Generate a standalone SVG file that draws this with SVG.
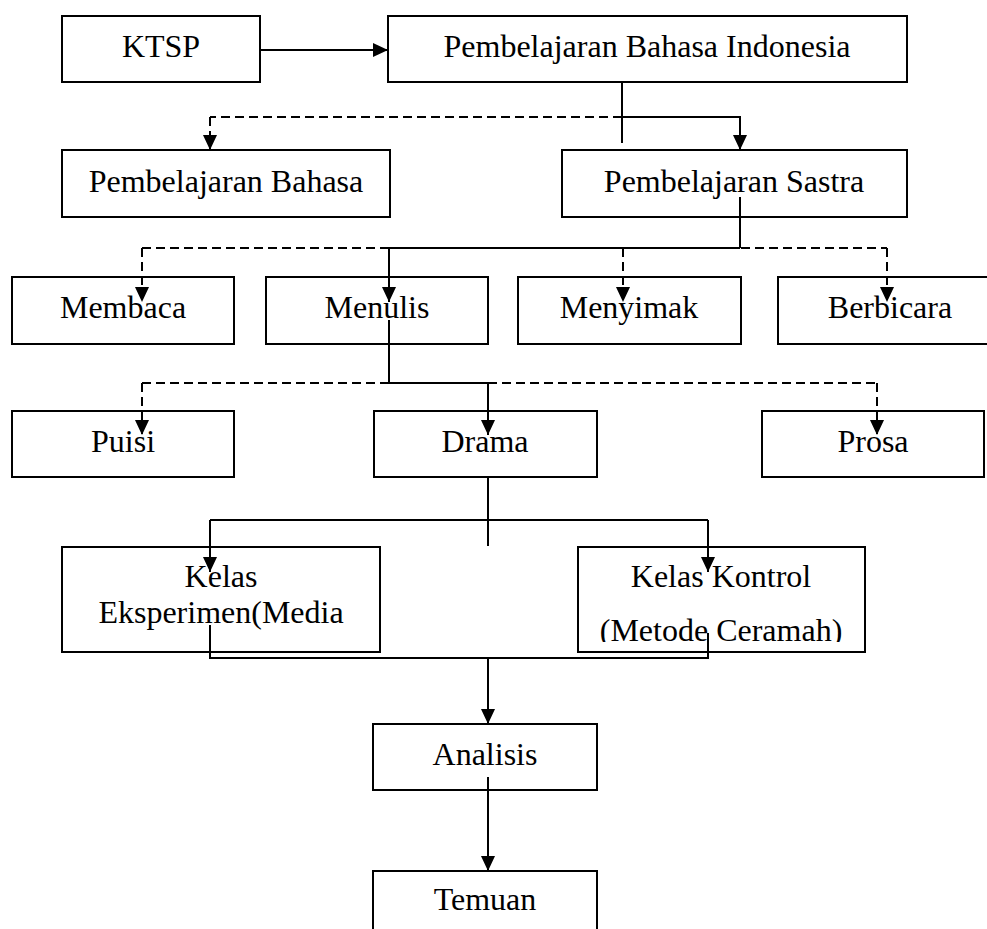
<svg xmlns="http://www.w3.org/2000/svg" width="987" height="929" viewBox="0 0 987 929">
<style>
.b{fill:#fff;stroke:#000;stroke-width:2}
.t{font-family:"Liberation Serif","Times New Roman",serif;font-size:32px;fill:#000;text-anchor:middle}
.l{fill:none;stroke:#000;stroke-width:2}
.d{fill:none;stroke:#000;stroke-width:2;stroke-dasharray:9 5}
</style>
<defs>
<marker id="ah" markerUnits="userSpaceOnUse" markerWidth="16" markerHeight="14" refX="15" refY="7" orient="auto">
<path d="M0,0 L15,7 L0,14 z" fill="#000"/>
</marker>
<clipPath id="ck"><rect x="578" y="547" width="288" height="95"/></clipPath>
</defs>
<rect width="987" height="929" fill="#fff"/>
<g id="ktsp"><rect class="b" x="62" y="16" width="198" height="66"/><text class="t" x="161" y="57">KTSP</text></g>
<g id="pbi"><rect class="b" x="388" y="16" width="519" height="66"/><text class="t" x="647" y="57">Pembelajaran Bahasa Indonesia</text></g>
<g id="pb"><rect class="b" x="62" y="150" width="328" height="67"/><text class="t" x="226" y="192">Pembelajaran Bahasa</text></g>
<g id="ps"><rect class="b" x="562" y="150" width="345" height="67"/><text class="t" x="734" y="192">Pembelajaran Sastra</text></g>
<g id="membaca"><rect class="b" x="12" y="277" width="222" height="67"/><text class="t" x="123" y="318">Membaca</text></g>
<g id="menulis"><rect class="b" x="266" y="277" width="222" height="67"/><text class="t" x="377" y="318">Menulis</text></g>
<g id="menyimak"><rect class="b" x="518" y="277" width="223" height="67"/><text class="t" x="629" y="318">Menyimak</text></g>
<g id="berbicara"><rect class="b" x="778" y="277" width="227" height="67"/><text class="t" x="890" y="318">Berbicara</text></g>
<g id="puisi"><rect class="b" x="12" y="411" width="222" height="66"/><text class="t" x="123" y="452">Puisi</text></g>
<g id="drama"><rect class="b" x="374" y="411" width="223" height="66"/><text class="t" x="485" y="452">Drama</text></g>
<g id="prosa"><rect class="b" x="762" y="411" width="222" height="66"/><text class="t" x="873" y="452">Prosa</text></g>
<g id="eksperimen"><rect class="b" x="62" y="547" width="318" height="105"/><text class="t" x="221" y="587">Kelas</text><text class="t" x="221" y="623">Eksperimen(Media</text></g>
<g id="kontrol"><rect class="b" x="578" y="547" width="287" height="105"/><text class="t" x="721" y="587">Kelas Kontrol</text><text class="t" x="721" y="641" clip-path="url(#ck)">(Metode Ceramah)</text></g>
<g id="analisis"><rect class="b" x="373" y="724" width="224" height="66"/><text class="t" x="485" y="765">Analisis</text></g>
<g id="temuan"><path class="b" d="M373,935 V871 H597 V935"/><text class="t" x="485" y="910">Temuan</text></g>
<g id="connectors">
<line class="l" x1="260" y1="50" x2="388" y2="50" marker-end="url(#ah)"/>
<line class="l" x1="622" y1="82" x2="622" y2="143"/>
<line class="d" x1="622" y1="117" x2="210" y2="117"/>
<line class="d" x1="210" y1="117" x2="210" y2="150" marker-end="url(#ah)"/>
<polyline class="l" points="622,117 740,117 740,150" marker-end="url(#ah)"/>
<line class="l" x1="740" y1="197" x2="740" y2="248"/>
<line class="l" x1="740" y1="248" x2="389" y2="248"/>
<line class="d" x1="389" y1="248" x2="142" y2="248"/>
<line class="d" x1="142" y1="248" x2="142" y2="302" marker-end="url(#ah)"/>
<line class="l" x1="389" y1="248" x2="389" y2="302" marker-end="url(#ah)"/>
<line class="d" x1="623" y1="248" x2="623" y2="302" marker-end="url(#ah)"/>
<line class="d" x1="741" y1="248" x2="887" y2="248"/>
<line class="d" x1="887" y1="248" x2="887" y2="302" marker-end="url(#ah)"/>
<line class="l" x1="389" y1="320" x2="389" y2="383"/>
<line class="d" x1="389" y1="383" x2="142" y2="383"/>
<line class="d" x1="142" y1="383" x2="142" y2="435" marker-end="url(#ah)"/>
<line class="l" x1="389" y1="383" x2="488" y2="383"/>
<line class="l" x1="488" y1="383" x2="488" y2="435" marker-end="url(#ah)"/>
<line class="d" x1="488" y1="383" x2="877" y2="383"/>
<line class="d" x1="877" y1="383" x2="877" y2="435" marker-end="url(#ah)"/>
<line class="l" x1="488" y1="476" x2="488" y2="546"/>
<line class="l" x1="210" y1="520" x2="708" y2="520"/>
<line class="l" x1="210" y1="520" x2="210" y2="572" marker-end="url(#ah)"/>
<line class="l" x1="708" y1="520" x2="708" y2="572" marker-end="url(#ah)"/>
<polyline class="l" points="210,625 210,658 708,658 708,633"/>
<line class="l" x1="488" y1="658" x2="488" y2="724" marker-end="url(#ah)"/>
<line class="l" x1="488" y1="777" x2="488" y2="871" marker-end="url(#ah)"/>
</g>
</svg>
